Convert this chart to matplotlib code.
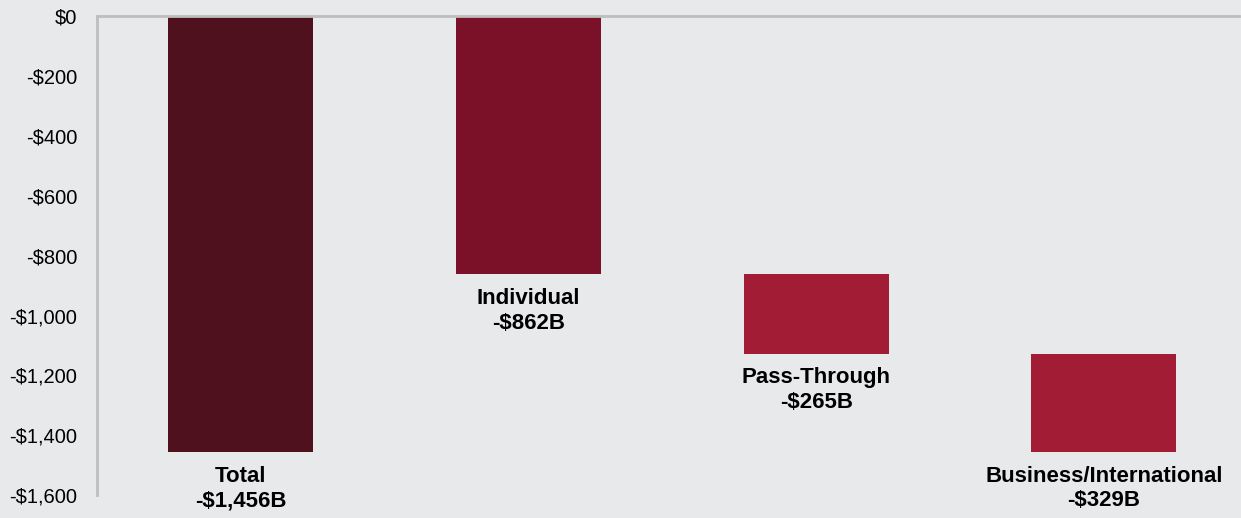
import matplotlib.pyplot as plt
from matplotlib.ticker import FuncFormatter

plt.rcParams["font.family"] = ["Liberation Sans", "DejaVu Sans"]

categories = ["Total", "Individual", "Pass-Through", "Business/International"]
changes = [-1456, -862, -265, -329]   # $ billions
is_total = [True, False, False, False]
colors = ["#4F111E", "#7B1128", "#A31C35", "#A31C35"]

BG = "#E8E9EB"
SPINE = "#BEBEBE"

# waterfall: total drops from zero, components stack downward from zero
bottoms = []
running = 0
for c, tot in zip(changes, is_total):
    if tot:
        bottoms.append(0)
    else:
        bottoms.append(running)
        running += c

fig = plt.figure(figsize=(12.41, 5.18), dpi=100, facecolor=BG)
ax = fig.add_axes([0.078, 0.044, 0.92, 0.925], facecolor=BG)

x = range(len(categories))
ax.bar(x, changes, bottom=bottoms, width=0.504, color=colors)

for xi, cat, c, b in zip(x, categories, changes, bottoms):
    ax.annotate(f"{cat}\n-${abs(c):,}B", (xi, b + c), xytext=(0, -10),
                textcoords="offset points", ha="center", va="top",
                fontsize=16, fontweight="bold", linespacing=1.22,
                annotation_clip=False)

ax.set_xlim(-0.500, 3.468)
ax.set_ylim(-1600, 0)
ax.set_yticks(range(0, -1601, -200))
ax.yaxis.set_major_formatter(FuncFormatter(
    lambda v, _: "$0" if v == 0 else f"-${abs(v):,.0f}"))
ax.set_xticks([])
ax.tick_params(axis="y", length=0, pad=14, labelsize=14.5)

for side in ["right", "bottom"]:
    ax.spines[side].set_visible(False)
for side in ["top", "left"]:
    ax.spines[side].set_color(SPINE)
    ax.spines[side].set_linewidth(2)

fig.savefig("out.png", dpi=100, facecolor=BG)
